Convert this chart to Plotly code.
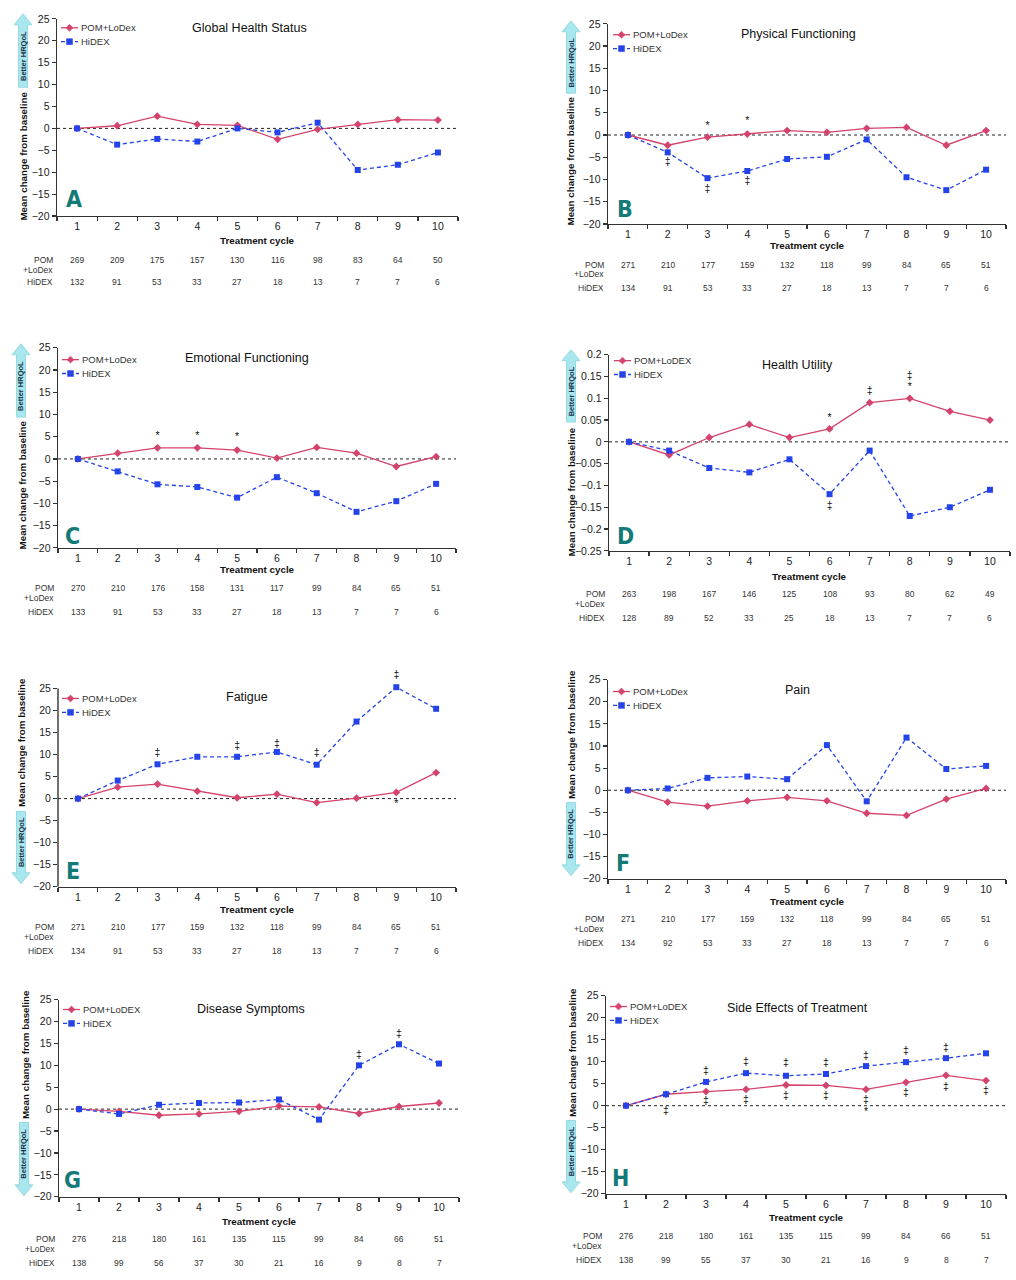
import plotly.graph_objects as go

W, H = 1016, 1280
cycles = list(range(1, 11))

# ---------------- data ----------------
titles = ["Global Health Status", "Physical Functioning", "Emotional Functioning",
          "Health Utility", "Fatigue", "Pain", "Disease Symptoms", "Side Effects of Treatment"]
letters = ["A", "B", "C", "D", "E", "F", "G", "H"]
pom_names = ["POM+LoDex", "POM+LoDex", "POM+LoDex", "POM+LoDEX",
             "POM+LoDex", "POM+LoDex", "POM+LoDEX", "POM+LoDEX"]
hidex_name = "HiDEX"

ghs_pom = [0, 0.6, 2.8, 0.9, 0.7, -2.5, -0.2, 0.9, 2.0, 1.9]
ghs_hidex = [0, -3.7, -2.4, -3.0, 0.0, -0.9, 1.3, -9.5, -8.3, -5.5]
pf_pom = [0, -2.3, -0.5, 0.2, 1.0, 0.6, 1.5, 1.7, -2.3, 1.0]
pf_hidex = [0, -3.9, -9.7, -8.1, -5.4, -4.9, -1.0, -9.5, -12.4, -7.8]
ef_pom = [0, 1.3, 2.5, 2.5, 2.0, 0.2, 2.6, 1.3, -1.7, 0.5]
ef_hidex = [0, -2.8, -5.7, -6.3, -8.7, -4.1, -7.7, -11.9, -9.5, -5.6]
hu_pom = [0, -0.03, 0.01, 0.04, 0.01, 0.03, 0.09, 0.10, 0.07, 0.05]
hu_hidex = [0, -0.02, -0.06, -0.07, -0.04, -0.12, -0.02, -0.17, -0.15, -0.11]
fa_pom = [0, 2.6, 3.3, 1.7, 0.2, 1.0, -0.9, 0.1, 1.4, 5.9]
fa_hidex = [0, 4.1, 7.8, 9.5, 9.5, 10.6, 7.7, 17.5, 25.3, 20.4]
pa_pom = [0, -2.7, -3.6, -2.4, -1.6, -2.4, -5.2, -5.7, -2.0, 0.4]
pa_hidex = [0, 0.4, 2.8, 3.1, 2.5, 10.2, -2.5, 11.9, 4.8, 5.5]
ds_pom = [0, -0.5, -1.4, -1.1, -0.5, 0.7, 0.5, -1.0, 0.6, 1.4]
ds_hidex = [0, -1.1, 1.0, 1.4, 1.5, 2.2, -2.4, 10.0, 14.8, 10.4]
se_pom = [0, 2.6, 3.2, 3.7, 4.7, 4.6, 3.7, 5.3, 6.9, 5.7]
se_hidex = [0, 2.6, 5.4, 7.4, 6.8, 7.2, 9.0, 9.9, 10.8, 11.9]

pom_series = [ghs_pom, pf_pom, ef_pom, hu_pom, fa_pom, pa_pom, ds_pom, se_pom]
hidex_series = [ghs_hidex, pf_hidex, ef_hidex, hu_hidex, fa_hidex, pa_hidex, ds_hidex, se_hidex]

# numbers of patients
n_pom_A = [269, 209, 175, 157, 130, 116, 98, 83, 64, 50]
n_hidex_A = [132, 91, 53, 33, 27, 18, 13, 7, 7, 6]
n_pom_B = [271, 210, 177, 159, 132, 118, 99, 84, 65, 51]
n_hidex_B = [134, 91, 53, 33, 27, 18, 13, 7, 7, 6]
n_pom_C = [270, 210, 176, 158, 131, 117, 99, 84, 65, 51]
n_hidex_C = [133, 91, 53, 33, 27, 18, 13, 7, 7, 6]
n_pom_D = [263, 198, 167, 146, 125, 108, 93, 80, 62, 49]
n_hidex_D = [128, 89, 52, 33, 25, 18, 13, 7, 7, 6]
n_pom_E = [271, 210, 177, 159, 132, 118, 99, 84, 65, 51]
n_hidex_E = [134, 91, 53, 33, 27, 18, 13, 7, 7, 6]
n_pom_F = [271, 210, 177, 159, 132, 118, 99, 84, 65, 51]
n_hidex_F = [134, 92, 53, 33, 27, 18, 13, 7, 7, 6]
n_pom_G = [276, 218, 180, 161, 135, 115, 99, 84, 66, 51]
n_hidex_G = [138, 99, 56, 37, 30, 21, 16, 9, 8, 7]
n_pom_H = [276, 218, 180, 161, 135, 115, 99, 84, 66, 51]
n_hidex_H = [138, 99, 55, 37, 30, 21, 16, 9, 8, 7]
n_pom = [n_pom_A, n_pom_B, n_pom_C, n_pom_D, n_pom_E, n_pom_F, n_pom_G, n_pom_H]
n_hidex = [n_hidex_A, n_hidex_B, n_hidex_C, n_hidex_D, n_hidex_E, n_hidex_F, n_hidex_G, n_hidex_H]

# significance markers: (cycle, y, symbol)
sig_A = []
sig_B = [(3, 2.0, "*"), (4, 3.0, "*"), (2, -6.2, "‡"), (3, -12.2, "‡"), (4, -10.5, "‡")]
sig_C = [(3, 5.1, "*"), (4, 5.1, "*"), (5, 4.8, "*")]
sig_D = [(6, 0.055, "*"), (7, 0.115, "‡"), (8, 0.15, "‡"), (8, 0.125, "*"), (6, -0.148, "‡")]
sig_E = [(3, 10.2, "‡"), (5, 11.8, "‡"), (6, 12.4, "‡"), (7, 10.2, "‡"), (9, 28.0, "‡"), (9, -1.2, "*")]
sig_F = []
sig_G = [(8, 12.3, "‡"), (9, 17.0, "‡")]
sig_H = [(3, 7.9, "‡"), (4, 9.8, "‡"), (5, 9.6, "‡"), (6, 9.5, "‡"), (7, 11.1, "‡"), (8, 12.3, "‡"),
         (9, 13.0, "‡"), (2, -1.3, "‡"), (3, 1.0, "‡"), (4, 1.3, "‡"), (5, 2.2, "‡"), (6, 2.2, "‡"),
         (7, 1.2, "‡"), (7, -1.6, "*"), (8, 2.9, "‡"), (9, 4.1, "‡"), (10, 3.2, "‡")]
sigs = [sig_A, sig_B, sig_C, sig_D, sig_E, sig_F, sig_G, sig_H]

# axis ranges (drawn axis) and the head-room used above the axis for each panel
y_ranges = [[-20, 25]] * 3 + [[-0.25, 0.2]] + [[-20, 25]] * 4
y_dticks = [5, 5, 5, 0.05, 5, 5, 5, 5]
y_headroom = [0, 0, 0, 0, 4.5, 0, 0, 0]

# ---------------- layout geometry (target pixels in the picture) ----------------
geo = [
    dict(x0=57, x1=458, yt=13, yb=212, tc=25, pom=44, hid=67, ytx=24, ytc=152,
         arr=(23, 8, 82, True), let=(74, 195), tit=(249, 22), leg=(61, 22)),
    dict(x0=608, x1=1006, yt=18, yb=220, tc=22, pom=41, hid=65, ytx=571, ytc=157,
         arr=(571, 15, 88, True), let=(625, 205), tit=(798, 28), leg=(613, 29)),
    dict(x0=58, x1=456, yt=345, yb=547, tc=22, pom=41, hid=65, ytx=22, ytc=484,
         arr=(21, 341, 415, True), let=(72, 535), tit=(247, 355), leg=(62, 357)),
    dict(x0=609, x1=1010, yt=352, yb=550, tc=26, pom=44, hid=68, ytx=571, ytc=491,
         arr=(571, 347, 420, True), let=(625, 535), tit=(797, 362), leg=(614, 358)),
    dict(x0=58, x1=456, yt=689, yb=889, tc=23, pom=41, hid=65, ytx=21, ytc=744,
         arr=(21, 813, 886, False), let=(73, 873), tit=(247, 698), leg=(62, 699)),
    dict(x0=608, x1=1006, yt=680, yb=881, tc=23, pom=41, hid=65, ytx=571, ytc=736,
         arr=(571, 804, 878, False), let=(623, 865), tit=(797, 690), leg=(613, 692)),
    dict(x0=59, x1=459, yt=1003, yb=1202, tc=25, pom=43, hid=67, ytx=25, ytc=1059,
         arr=(24, 1127, 1201, False), let=(72, 1185), tit=(251, 1012), leg=(63, 1013)),
    dict(x0=606, x1=1006, yt=999, yb=1199, tc=24, pom=43, hid=67, ytx=572, ytc=1057,
         arr=(571, 1125, 1198, False), let=(620, 1183), tit=(797, 1011), leg=(610, 1010)),
]

FONT = "Liberation Sans, Arial, sans-serif"
POM_COLOR = "#d4436b"
HID_COLOR = "#2443e8"
AXIS_COLOR = "#333"


def px(x):
    return x / W


def py(y):
    return 1 - y / H


def poly_path(pts):
    return "M " + " L ".join(f"{px(a):.5f},{py(b):.5f}" for a, b in pts) + " Z"


def arrow_pts(cx, top, bottom, up, head_len=11, head_hw=9, shaft_hw=4.5):
    if up:
        return [(cx, top), (cx + head_hw, top + head_len), (cx + shaft_hw, top + head_len),
                (cx + shaft_hw, bottom), (cx - shaft_hw, bottom), (cx - shaft_hw, top + head_len),
                (cx - head_hw, top + head_len)]
    return [(cx, bottom), (cx + head_hw, bottom - head_len), (cx + shaft_hw, bottom - head_len),
            (cx + shaft_hw, top), (cx - shaft_hw, top), (cx - shaft_hw, bottom - head_len),
            (cx - head_hw, bottom - head_len)]


fig = go.Figure()
annotations = []
shapes = []
layout_axes = {}

for i in range(8):
    g = geo[i]
    k = i + 1
    xa = "x" if k == 1 else f"x{k}"
    ya = "y" if k == 1 else f"y{k}"
    lo, hi = y_ranges[i]
    extra = y_headroom[i]
    # enlarge the subplot upward so that the head-room keeps the same scale
    top_px = g["yt"] - extra * (g["yb"] - g["yt"]) / (hi - lo)

    fig.add_trace(go.Scatter(
        x=cycles, y=pom_series[i], name=pom_names[i], xaxis=xa, yaxis=ya, showlegend=False,
        mode="lines+markers", line=dict(color=POM_COLOR, width=1.3),
        marker=dict(symbol="diamond", size=6, color=POM_COLOR), cliponaxis=False))
    fig.add_trace(go.Scatter(
        x=cycles, y=hidex_series[i], name=hidex_name, xaxis=xa, yaxis=ya, showlegend=False,
        mode="lines+markers", line=dict(color=HID_COLOR, width=1.3, dash="4px,3px"),
        marker=dict(symbol="square", size=6, color=HID_COLOR), cliponaxis=False))
    if sigs[i]:
        fig.add_trace(go.Scatter(
            x=[s[0] for s in sigs[i]], y=[s[1] for s in sigs[i]], text=[s[2] for s in sigs[i]],
            mode="text", textposition="middle center", xaxis=xa, yaxis=ya, showlegend=False,
            textfont=dict(size=10.5, color="#111", family=FONT), cliponaxis=False,
            hoverinfo="skip"))

    xkey = "xaxis" if k == 1 else f"xaxis{k}"
    ykey = "yaxis" if k == 1 else f"yaxis{k}"
    layout_axes[xkey] = dict(
        domain=[px(g["x0"]), px(g["x1"])], anchor=ya, range=[0.5, 10.5],
        tickmode="array", tickvals=cycles, ticktext=[str(c) for c in cycles],
        ticks="", showline=True, linecolor=AXIS_COLOR, linewidth=1.4, showgrid=False, zeroline=False,
        tickfont=dict(size=10.5, color="#222", family=FONT),
        minor=dict(tickmode="linear", tick0=0.5, dtick=1, ticks="outside", ticklen=4,
                   tickcolor=AXIS_COLOR, tickwidth=1.2, showgrid=False),
        fixedrange=True)
    layout_axes[ykey] = dict(
        domain=[py(g["yb"]), py(top_px)], anchor=xa, range=[lo, hi + extra],
        tickmode="linear", tick0=lo, dtick=y_dticks[i],
        ticks="outside", ticklen=4, tickcolor=AXIS_COLOR, tickwidth=1.2,
        showline=(extra == 0), linecolor=AXIS_COLOR, linewidth=1.4, showgrid=False, zeroline=False,
        tickfont=dict(size=10.5, color="#222", family=FONT), fixedrange=True)
    if extra:
        # y axis line only over the labelled range
        shapes.append(dict(type="line", xref=f"{xa} domain", yref=ya, x0=0, x1=0, y0=lo, y1=hi,
                           line=dict(color=AXIS_COLOR, width=1.4), layer="above"))

    # dotted zero line
    shapes.append(dict(type="line", xref=f"{xa} domain", yref=ya, x0=0, x1=1, y0=0, y1=0,
                       line=dict(color="#222", width=1, dash="dot"), layer="below"))

    # legend (drawn key)
    lx, ly = g["leg"]
    ly2 = ly + 14
    shapes.append(dict(type="line", xref="paper", yref="paper", x0=px(lx), x1=px(lx + 17),
                       y0=py(ly), y1=py(ly), line=dict(color=POM_COLOR, width=1.3)))
    mx = lx + 8.5
    shapes.append(dict(type="path", xref="paper", yref="paper",
                       path=poly_path([(mx, ly - 3.5), (mx + 3.5, ly), (mx, ly + 3.5), (mx - 3.5, ly)]),
                       fillcolor=POM_COLOR, line=dict(color=POM_COLOR, width=0.5)))
    shapes.append(dict(type="line", xref="paper", yref="paper", x0=px(lx), x1=px(lx + 17),
                       y0=py(ly2), y1=py(ly2), line=dict(color=HID_COLOR, width=1.3, dash="4px,3px")))
    shapes.append(dict(type="path", xref="paper", yref="paper",
                       path=poly_path([(mx - 3, ly2 - 3), (mx + 3, ly2 - 3), (mx + 3, ly2 + 3), (mx - 3, ly2 + 3)]),
                       fillcolor=HID_COLOR, line=dict(color=HID_COLOR, width=0.5)))
    annotations.append(dict(x=px(lx + 18), y=py(ly), xref="paper", yref="paper", text=pom_names[i],
                            showarrow=False, xanchor="left", yanchor="middle",
                            font=dict(size=9.5, color="#333", family=FONT)))
    annotations.append(dict(x=px(lx + 18), y=py(ly2), xref="paper", yref="paper", text=hidex_name,
                            showarrow=False, xanchor="left", yanchor="middle",
                            font=dict(size=9.5, color="#333", family=FONT)))

    # title
    tx, ty = g["tit"]
    annotations.append(dict(x=px(tx), y=py(ty), xref="paper", yref="paper", text=titles[i],
                            showarrow=False, xanchor="center", yanchor="middle",
                            font=dict(size=12.5, color="#111", family=FONT)))
    # panel letter
    lx2, ly2b = g["let"]
    annotations.append(dict(x=px(lx2), y=py(ly2b), xref="paper", yref="paper", text=letters[i],
                            showarrow=False, xanchor="center", yanchor="middle",
                            font=dict(size=23, color="#147a78",
                                      family="Liberation Sans Narrow, DejaVu Sans Condensed, Arial Narrow, sans-serif",
                                      weight="bold")))
    # y axis title
    annotations.append(dict(x=px(g["ytx"]), y=py(g["ytc"]), xref="paper", yref="paper",
                            text="Mean change from baseline", textangle=-90, showarrow=False,
                            xanchor="center", yanchor="middle",
                            font=dict(size=9.8, color="#111", family=FONT, weight="bold")))
    # x axis title
    annotations.append(dict(x=px((g["x0"] + g["x1"]) / 2), y=py(g["yb"] + g["tc"]),
                            xref="paper", yref="paper", text="Treatment cycle", showarrow=False,
                            xanchor="center", yanchor="middle",
                            font=dict(size=9.8, color="#111", family=FONT, weight="bold")))
    # better HRQoL arrow
    cx, top, bottom, up = g["arr"]
    shapes.append(dict(type="path", xref="paper", yref="paper", path=poly_path(arrow_pts(cx, top, bottom, up)),
                       fillcolor="#a9e7ee", line=dict(color="#86d3dc", width=0.8), layer="above"))
    tcy = (top + 11 + bottom) / 2 if up else (top + bottom - 11) / 2
    annotations.append(dict(x=px(cx), y=py(tcy), xref="paper", yref="paper", text="Better HRQoL",
                            textangle=-90, showarrow=False, xanchor="center", yanchor="middle",
                            font=dict(size=7.5, color="#1a2a40", family=FONT, weight="bold")))
    # N tables
    pom_y = g["yb"] + g["pom"]
    hid_y = g["yb"] + g["hid"]
    annotations.append(dict(x=px(g["x0"] - 2), y=py(pom_y), xref="paper", yref="paper", text="POM",
                            showarrow=False, xanchor="right", yanchor="middle",
                            font=dict(size=8.5, color="#333", family=FONT)))
    annotations.append(dict(x=px(g["x0"] - 2), y=py(pom_y + 10), xref="paper", yref="paper",
                            text="+LoDex", showarrow=False, xanchor="right", yanchor="middle",
                            font=dict(size=8.5, color="#333", family=FONT)))
    annotations.append(dict(x=px(g["x0"] - 2), y=py(hid_y), xref="paper", yref="paper", text="HiDEX",
                            showarrow=False, xanchor="right", yanchor="middle",
                            font=dict(size=8.5, color="#333", family=FONT)))
    for c, npom, nhid in zip(cycles, n_pom[i], n_hidex[i]):
        annotations.append(dict(x=c, y=py(pom_y), xref=xa, yref="paper", text=str(npom),
                                showarrow=False, xanchor="center", yanchor="middle",
                                font=dict(size=8.5, color="#333", family=FONT)))
        annotations.append(dict(x=c, y=py(hid_y), xref=xa, yref="paper", text=str(nhid),
                                showarrow=False, xanchor="center", yanchor="middle",
                                font=dict(size=8.5, color="#333", family=FONT)))

fig.update_layout(
    width=W, height=H, margin=dict(l=0, r=0, t=0, b=0),
    paper_bgcolor="white", plot_bgcolor="white",
    font=dict(family=FONT, color="#222"),
    showlegend=False, hovermode=False, annotations=annotations, shapes=shapes,
    **layout_axes)

fig.write_html("out.html",
               config={"displayModeBar": False, "staticPlot": True},
               post_script="document.body.style.margin='0px';document.body.style.padding='0px';")
